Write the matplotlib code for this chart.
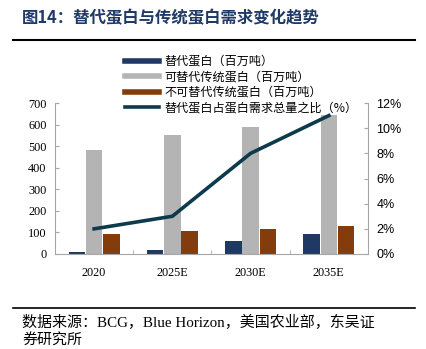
import numpy as np
import matplotlib.pyplot as plt
from matplotlib.lines import Line2D

plt.rcParams['font.family'] = ['Liberation Serif', 'Noto Sans CJK SC', 'DejaVu Sans']

# data
years = ['2020', '2025E', '2030E', '2035E']
alt_protein = [10, 20, 62, 95]
replaceable = [480, 553, 588, 643]
non_replaceable = [92, 108, 117, 130]
alt_share = [2, 3, 8, 11]

labels = ['替代蛋白（百万吨）', '可替代传统蛋白（百万吨）',
          '不可替代传统蛋白（百万吨）', '替代蛋白占蛋白需求总量之比（%）']

c_blue = '#203864'
c_gray = '#b4b4b4'
c_brown = '#843c0c'
c_line = '#0d3a4c'
c_spine = '#a6a6a6'

W, H = 426, 349
fig = plt.figure(figsize=(W / 100, H / 100), dpi=100)

# title and rules
fig.text(22 / W, 1 - 18 / H, '图14：替代蛋白与传统蛋白需求变化趋势', fontsize=11.8,
         fontweight='bold', color='#1f3a66', va='center', ha='left',
         family=['Noto Sans CJK SC'])
fig.add_artist(Line2D([13 / W, 415 / W], [1 - 40 / H, 1 - 40 / H], color='black', lw=1.5))
fig.add_artist(Line2D([13 / W, 415 / W], [1 - 308 / H, 1 - 308 / H], color='black', lw=1.2))
fig.text(22 / W, 1 - 322 / H, '数据来源：BCG，Blue Horizon，美国农业部，东吴证',
         fontsize=10.8, va='center', ha='left')
fig.text(22 / W, 1 - 340 / H, '券研究所', fontsize=10.8, va='center', ha='left')

ax = fig.add_axes([55 / W, 1 - 254 / H, (368 - 55) / W, (254 - 103) / H])
x = np.arange(len(years))
bw = 0.21
ax.bar(x - 0.22, alt_protein, bw, color=c_blue)
ax.bar(x, replaceable, bw, color=c_gray)
ax.bar(x + 0.22, non_replaceable, bw, color=c_brown)
ax.set_xlim(-0.5, 3.5)
ax.set_ylim(0, 700)
ax.set_yticks(range(0, 701, 100))
ax.set_xticks(x)
ax.set_xticklabels(years)
ax.set_xticks(np.arange(0.5, 3.5, 1), minor=True)
ax.tick_params(axis='x', which='major', length=0, pad=9, labelsize=8.8)
ax.tick_params(axis='x', which='minor', direction='in', length=3, color=c_spine)
ax.tick_params(axis='y', direction='in', length=3, color=c_spine, labelsize=8.8, pad=6)
for s in ['top', 'right']:
    ax.spines[s].set_visible(False)
for s in ['left', 'bottom']:
    ax.spines[s].set_color(c_spine)

ax2 = ax.twinx()
ax2.plot(x, alt_share, color=c_line, lw=2.6)
ax2.set_ylim(0, 12)
ax2.set_yticks(range(0, 13, 2))
ax2.set_yticklabels([f'{v}%' for v in range(0, 13, 2)], family='Liberation Sans')
ax2.tick_params(axis='y', direction='in', length=3, color=c_spine, labelsize=9, pad=6)
for s in ['top', 'left', 'bottom']:
    ax2.spines[s].set_visible(False)
ax2.spines['right'].set_color(c_spine)

handles = [Line2D([], [], color=c_blue, lw=4),
           Line2D([], [], color=c_gray, lw=4),
           Line2D([], [], color=c_brown, lw=4),
           Line2D([], [], color=c_line, lw=2.6)]
leg = fig.legend(handles, labels, loc='upper left', bbox_to_anchor=(125 / W, 1 - 55 / H),
                 frameon=False, handlelength=2.8, handletextpad=0.45,
                 labelspacing=0.2, borderaxespad=0, borderpad=0,
                 prop={'family': ['Noto Sans CJK SC'], 'size': 8.7})

fig.savefig('out.png', dpi=100)
